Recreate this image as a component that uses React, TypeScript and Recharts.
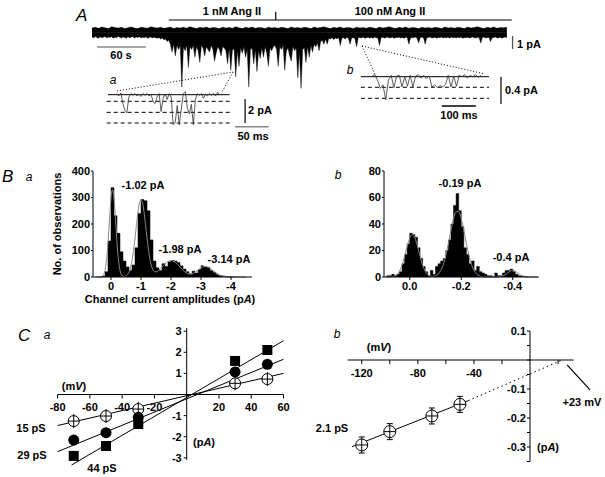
import React from 'react';
import { ComposedChart, Area, Line, Scatter, XAxis, YAxis, ReferenceLine } from 'recharts';

const W = 605;
const H = 477;
const FONT = '"Liberation Sans", Arial, Helvetica, sans-serif';

// ---------- Panel A : continuous recording (pA) ----------
// lower envelope, one value every 2 s
const traceLow = [
  // quiet, control
  -0.35, -0.42, -0.3, -0.38, -0.45, -0.33, -0.4, -0.36, -0.3, -0.43,
  -0.35, -0.38, -0.32, -0.45, -0.36, -0.4, -0.3, -0.37, -0.42, -0.34,
  -0.38, -0.45, -0.33, -0.4, -0.36, -0.3, -0.44, -0.35, -0.39, -0.32,
  -0.42, -0.36, -0.4, -0.33, -0.45, -0.38, -0.35, -0.42, -0.36, -0.4,
  -0.45, -0.38, -0.5, -0.42, -0.55,
  // active, Ang II
  -0.5, -0.7, -0.6, -0.9, -1.5, -0.9, -1.8, -1.0, -1.3, -1.0,
  -4.2, -1.1, -1.4, -1.0, -2.7, -1.1, -1.3, -1.0, -1.9, -1.1,
  -1.4, -2.3, -1.0, -1.2, -1.8, -1.1, -1.3, -1.5, -1.0, -1.3,
  -2.2, -1.6, -1.1, -1.3, -1.8, -1.1, -1.2, -1.4, -2.4, -1.2,
  -2.9, -1.3, -1.3, -3.4, -1.4, -2.6, -1.2, -1.6, -1.1, -1.9,
  -1.3, -4.2, -1.3, -1.2, -2.4, -1.3, -3.0, -1.4, -2.0, -1.2,
  -1.9, -1.1, -1.6, -2.6, -1.2, -1.4, -1.1, -1.0, -1.3, -2.6,
  -1.1, -1.3, -1.0, -2.9, -1.4, -1.2, -1.8, -2.2, -1.1, -1.4,
  -1.2, -3.5, -1.5, -4.3, -1.3, -1.2, -2.3, -1.1, -1.9, -1.0,
  -1.5, -0.9, -1.1, -0.8, -1.4, -0.7, -0.6, -0.9, -0.5,
  // late
  -0.9, -0.45, -0.5, -0.4, -0.55, -0.42, -0.48, -0.4, -1.0, -0.45,
  -0.4, -0.5, -0.38, -0.45, -0.9, -0.42, -0.4, -0.48, -1.1, -0.4,
  -0.38, -0.42, -0.35, -0.45, -0.4, -0.36, -0.42, -0.38, -0.45, -0.35,
  -0.4, -0.42, -1.0, -0.4, -0.36, -0.44, -0.38, -0.35, -0.42, -0.4,
  -0.36, -0.45, -0.38, -0.4, -0.35, -0.42, -0.38, -0.45, -0.36, -0.4,
  -0.9, -0.42, -0.38, -0.4, -0.35, -0.44, -0.8, -0.4, -0.36, -0.42,
  -0.9, -0.4, -0.38, -0.35, -0.42, -0.4, -0.36, -0.45, -0.38, -0.4,
  -0.35, -0.42, -0.38, -0.4, -0.36, -0.44, -0.35, -0.4, -0.38, -0.42,
  -0.36, -0.4, -0.35, -0.45, -0.38, -0.4, -0.36, -0.42, -0.38, -0.35,
  -0.4, -0.42, -0.36, -0.4, -0.8, -0.38, -0.35, -0.42, -0.4, -0.36,
  -0.7, -0.4, -0.38, -0.35, -0.42, -0.4, -0.36, -0.44, -0.38, -0.35, -0.4,
];
// upper envelope, one value every 4 s
const traceHigh = [
  0.35, 0.4, 0.32, 0.42, 0.36, 0.3, 0.45, 0.38,
  0.34, 0.4, 0.31, 0.37, 0.43, 0.35, 0.3, 0.41,
  0.36, 0.33, 0.44, 0.38, 0.35, 0.4, 0.32, 0.36,
  0.42, 0.3, 0.38, 0.35, 0.4, 0.33, 0.45, 0.36,
  0.3, 0.4, 0.35, 0.42, 0.32, 0.38, 0.36, 0.3,
  0.41, 0.35, 0.38, 0.33, 0.44, 0.36, 0.3, 0.4,
  0.35, 0.42, 0.32, 0.38, 0.36, 0.3, 0.41, 0.35,
  0.38, 0.33, 0.4, 0.36, 0.3, 0.42, 0.35, 0.38,
  0.33, 0.4, 0.36, 0.3, 0.42, 0.35, 0.38, 0.44,
  0.36, 0.3, 0.4, 0.35, 0.42, 0.32, 0.38, 0.36,
  0.3, 0.41, 0.35, 0.38, 0.33, 0.4, 0.36, 0.3,
  0.42, 0.35, 0.38, 0.45, 0.36, 0.3, 0.4, 0.35,
  0.42, 0.32, 0.38, 0.36, 0.3, 0.41, 0.35, 0.38,
  0.33, 0.4, 0.36, 0.3, 0.42, 0.35, 0.38, 0.33,
  0.4, 0.36, 0.3, 0.42, 0.35, 0.38, 0.44, 0.36,
  0.3, 0.4, 0.35, 0.42, 0.32, 0.38, 0.36, 0.4,
];
const lowRows = traceLow.map((lo, i) => ({ t: i * 2, band: [lo, 0] }));
const highRows = traceHigh.map((hi, i) => ({ t: i * 4, band: [0, hi] }));

// inset a (ms, pA)
const insetATime = [15, 18, 21, 24, 27, 30, 33, 36, 39, 42, 45, 48, 51, 54, 57, 60, 63, 66, 69, 72, 75, 78, 81, 84,
  87, 90, 93, 96, 99, 102, 105, 108, 111, 114, 117, 120, 123, 126, 129, 132, 135, 138, 141, 144, 147, 150, 153,
  156, 159, 162, 165, 168, 171];
const insetACurrent = [0.1, -0.1, 0.15, -0.7, -1.3, -1.5, -0.2, 0.1, -0.05, 0.1,
  -0.1, 0.05, -0.15, 0.1, -0.05, 0.1, -0.1, 0.05, -0.6, -0.75,
  -0.2, 0.1, -1.4, -0.3, 0.05, -0.4, 0.1, -0.2, -2.5, -2.3,
  -0.9, -2.5, -1.2, 0.1, 0.25, -1.1, -1.6, -0.8, -2.5, -0.4,
  0.1, -0.05, 0.1, -0.3, 0.05, -0.1, 0.1, -0.05, 0.1, -0.1,
  0.2, 0, 0.05];
const insetARows = insetATime.map((t, i) => ({ t, i: insetACurrent[i] }));
const insetALevels = [-0.55, -1.47, -2.36];

// inset b (ms, pA)
const insetBTime = [18, 26, 34, 42, 50, 58, 66, 74, 82, 90, 98, 106, 114, 122, 130, 138, 146, 154, 162, 170, 178,
  186, 194, 202, 210, 218, 226, 234, 242, 250, 258, 266, 274, 282, 290, 298, 306, 314, 322, 330, 338];
const insetBCurrent = [0.01, 0.03, -0.05, -0.17, -0.12, -0.34, -0.05, 0.02, -0.16, 0.01,
  0.02, -0.15, 0.0, -0.14, 0.02, -0.15, 0.01, 0.03, -0.02, 0.02,
  -0.03, 0.01, -0.15, -0.12, -0.16, -0.13, -0.15, -0.11, 0.02, -0.15,
  0.01, -0.14, 0.02, 0.0, 0.03, -0.02, 0.02, 0.0, 0.03, -0.01, 0.02];
const insetBRows = insetBTime.map((t, i) => ({ t, i: insetBCurrent[i] }));
const insetBLevels = [-0.155, -0.316];

// ---------- Panel B : amplitude histograms ----------
const histAX = [0.4, 0.3, 0.2, 0.1, 0.0, -0.1, -0.2, -0.3, -0.4, -0.5, -0.6, -0.7, -0.8, -0.9, -1.0, -1.1, -1.2,
  -1.3, -1.4, -1.5, -1.6, -1.7, -1.8, -1.9, -2.0, -2.1, -2.2, -2.3, -2.4, -2.5, -2.6, -2.7, -2.8, -2.9, -3.0,
  -3.1, -3.2, -3.3, -3.4, -3.5, -3.6, -3.7, -3.8, -3.9, -4.0, -4.1];
const histACount = [0, 3, 20, 136, 337, 231, 165, 95, 60, 38, 25, 45, 110, 240, 292, 288, 250,
  140, 60, 35, 25, 50, 40, 58, 62, 60, 55, 42, 30, 20, 10, 22, 15, 28, 42,
  38, 36, 25, 18, 10, 6, 4, 2, 1, 0, 0];
const histARows = histAX.map((x, i) => ({ x, c: histACount[i] }));
const fitAX = [0.5, 0.4, 0.3, 0.25, 0.2, 0.15, 0.1, 0.05, 0, -0.05, -0.1, -0.15, -0.2, -0.25, -0.3, -0.35, -0.4,
  -0.45, -0.5, -0.55, -0.6, -0.65, -0.7, -0.75, -0.8, -0.85, -0.9, -0.95, -1.0, -1.05, -1.1, -1.15, -1.2, -1.25,
  -1.3, -1.35, -1.4, -1.45, -1.5, -1.6, -1.7, -1.8, -1.9, -2.0, -2.1, -2.2, -2.3, -2.4, -2.5, -2.6, -2.7, -2.8,
  -2.9, -3.0, -3.1, -3.2, -3.3, -3.4, -3.5, -3.6, -3.7, -3.8, -3.9, -4.0, -4.2, -4.5];
const fitAY = [0, 0.1, 2.1, 8, 25, 63, 130, 218, 298, 330, 298, 218, 130, 63, 25, 8, 2.7,
  2.1, 4, 8.8, 18.3, 35, 61.5, 99, 146, 198, 246, 280, 292, 280, 246, 198, 148, 102,
  65.6, 41, 26.7, 20.3, 19.4, 26.1, 37.6, 49.6, 58.6, 62, 58.6, 49.6, 37.6, 25.8, 17, 12.3, 12.6, 17.7,
  25.9, 34.4, 39.5, 38.9, 32.6, 23.3, 14.2, 7.4, 3.3, 1.2, 0.4, 0.1, 0, 0];
const fitARows = fitAX.map((x, i) => ({ x, y: fitAY[i] }));

const histBX = [0.09, 0.08, 0.07, 0.06, 0.05, 0.04, 0.03, 0.02, 0.01, 0, -0.01, -0.02, -0.03, -0.04, -0.05, -0.06,
  -0.07, -0.08, -0.09, -0.1, -0.11, -0.12, -0.13, -0.14, -0.15, -0.16, -0.17, -0.18, -0.19, -0.2, -0.21, -0.22,
  -0.23, -0.24, -0.25, -0.26, -0.27, -0.28, -0.29, -0.3, -0.31, -0.32, -0.33, -0.34, -0.35, -0.36, -0.37, -0.38,
  -0.39, -0.4, -0.41, -0.42, -0.43, -0.44, -0.45, -0.46];
const histBCount = [1, 1, 2, 1, 2, 4, 10, 17, 25, 33, 32, 30, 22, 14, 8, 4, 1, 5, 2, 8, 10, 12, 14, 20, 28, 40, 54,
  63, 50, 38, 22, 17, 10, 12, 5, 8, 4, 3, 2, 1, 1, 0, 3, 1, 1, 3, 5, 5, 6, 4, 2, 1, 0.5, 0.5, 0, 0];
const histBRows = histBX.map((x, i) => ({ x, c: histBCount[i] }));
const fitBX = [0.09, 0.08, 0.07, 0.06, 0.05, 0.04, 0.03, 0.02, 0.01, 0, -0.01, -0.02, -0.03, -0.04, -0.05, -0.06,
  -0.07, -0.08, -0.09, -0.1, -0.11, -0.12, -0.13, -0.14, -0.15, -0.16, -0.17, -0.18, -0.19, -0.2, -0.21, -0.22,
  -0.23, -0.24, -0.25, -0.26, -0.27, -0.28, -0.29, -0.3, -0.32, -0.34, -0.35, -0.36, -0.37, -0.38, -0.39, -0.4,
  -0.41, -0.42, -0.43, -0.44, -0.45, -0.47, -0.5];
const fitBY = [0, 0.05, 0.2, 0.6, 1.8, 4.3, 8.9, 15.6, 23.2, 29.5, 32, 29.5, 23.2, 15.6, 8.9, 4.3,
  1.8, 0.7, 0.5, 0.9, 2.2, 4.8, 9.3, 16.2, 25.3, 35.3, 44.1, 49.3, 49.3, 44.1, 35.3, 25.3,
  16.2, 9.3, 4.8, 2.2, 0.9, 0.3, 0.1, 0, 0, 0.05, 0.2, 0.7, 1.6, 3.0, 4.4, 5,
  4.4, 3.0, 1.6, 0.7, 0.2, 0, 0];
const fitBRows = fitBX.map((x, i) => ({ x, y: fitBY[i] }));

// ---------- Panel C : I-V relations ----------
const voltsA = [-70, -50, -30, 30, 50];
const i15 = [-1.26, -1.02, -0.69, 0.53, 0.73];
const i29 = [-2.16, -1.81, -1.08, 1.07, 1.43];
const i44 = [-2.91, -2.44, -1.4, 1.59, 2.11];
const fit15 = [{ x: -80, y: -1.47 }, { x: 60, y: 1.0 }];
const fit29 = [{ x: -80, y: -2.71 }, { x: 60, y: 1.67 }];
const fit44 = [{ x: -71.3, y: -3.34 }, { x: 60, y: 2.55 }];
const pts15 = voltsA.map((x, i) => ({ x, y: i15[i] }));
const pts29 = voltsA.map((x, i) => ({ x, y: i29[i] }));
const pts44 = voltsA.map((x, i) => ({ x, y: i44[i] }));

const voltsB = [-120, -100, -70, -50];
const iB = [-0.293, -0.247, -0.193, -0.153];
const ptsB = voltsB.map((x, i) => ({ x, y: iB[i] }));
const fitBSolid = [{ x: -127, y: -0.299 }, { x: -44, y: -0.14 }];
const fitBDotted = [{ x: -44, y: -0.14 }, { x: 23, y: 0 }];

// ---------- helpers ----------
const mg = (x0: number, y0: number, x1: number, y1: number, yw = 0, xh = 0) => ({
  left: x0 - yw, top: y0, right: W - x1, bottom: H - y1 - xh,
});
const tickStyle = { fontSize: 11, fontWeight: 700, fill: '#000', fontFamily: FONT };
const axisStroke = { stroke: '#000', strokeWidth: 1 };

function Layer({ margin, data, children }: any) {
  return (
    <div style={{ position: 'absolute', left: 0, top: 0, width: W, height: H }}>
      <ComposedChart width={W} height={H} data={data} margin={margin}>
        {children}
      </ComposedChart>
    </div>
  );
}

function T({ x, y, children, size = 11, bold = true, italic = false, anchor = 'middle', rotate = 0 }: any) {
  const tx = anchor === 'middle' ? '-50%' : anchor === 'start' ? '0%' : '-100%';
  return (
    <div
      style={{
        position: 'absolute', left: x, top: y, whiteSpace: 'nowrap', lineHeight: 1,
        transform: `translate(${tx}, -50%) rotate(${rotate}deg)`,
        fontSize: size, fontWeight: bold ? 700 : 400, fontStyle: italic ? 'italic' : 'normal',
        fontFamily: FONT, color: '#000',
      }}
    >
      {children}
    </div>
  );
}

const OpenCross = (p: any) => (
  <g>
    <circle cx={p.cx} cy={p.cy} r={5.5} fill="#fff" stroke="#000" strokeWidth={1} />
    <line x1={p.cx - 5.5} x2={p.cx + 5.5} y1={p.cy} y2={p.cy} stroke="#000" strokeWidth={1} />
    <line x1={p.cx} x2={p.cx} y1={p.cy - 7} y2={p.cy + 7} stroke="#000" strokeWidth={1} />
  </g>
);
const Dot = (p: any) => <circle cx={p.cx} cy={p.cy} r={5.5} fill="#000" />;
const Sq = (p: any) => <rect x={p.cx - 5} y={p.cy - 5} width={10} height={10} fill="#000" />;
const Nothing = () => <g />;
const OpenCrossB = (p: any) => (
  <g>
    <circle cx={p.cx} cy={p.cy} r={6} fill="#fff" stroke="#000" strokeWidth={1} />
    <line x1={p.cx - 6} x2={p.cx + 6} y1={p.cy} y2={p.cy} stroke="#000" strokeWidth={1} />
    <line x1={p.cx} x2={p.cx} y1={p.cy - 8} y2={p.cy + 8} stroke="#000" strokeWidth={1} />
    <line x1={p.cx - 3} x2={p.cx + 3} y1={p.cy - 8} y2={p.cy - 8} stroke="#000" strokeWidth={1} />
    <line x1={p.cx - 3} x2={p.cx + 3} y1={p.cy + 8} y2={p.cy + 8} stroke="#000" strokeWidth={1} />
  </g>
);

const dummy = [{ x: 0, y: 0 }];

export default function App() {
  const caX0 = 57.6, caX1 = 283.5, caZero = 394.5, caUnit = 21.1;
  const cbX0 = 347.7, cbX1 = 573.5, cbYAxis = 530, cbZero = 360, cbUnit = 290;

  return (
    <div style={{ position: 'absolute', left: 0, top: 0, width: W, height: H, background: '#fff', overflow: 'hidden', fontFamily: FONT }}>
      {/* ---------- A: main trace ---------- */}
      <Layer margin={mg(92, 6.5, 533, 91)} data={lowRows}>
        <XAxis type="number" dataKey="t" domain={[0, 540]} hide />
        <YAxis type="number" domain={[-4.5, 2]} hide allowDataOverflow />
        <Area dataKey="band" type="linear" fill="#000" fillOpacity={1} stroke="#000" strokeWidth={0.4} isAnimationActive={false} />
        <Area data={highRows} dataKey="band" type="linear" fill="#000" fillOpacity={1} stroke="#000" strokeWidth={0.4} isAnimationActive={false} />
        <ReferenceLine segment={[{ x: 94, y: 0.96 }, { x: 514, y: 0.96 }]} stroke="#000" strokeWidth={1.2} ifOverflow="visible" />
        <ReferenceLine segment={[{ x: 225, y: 0.96 }, { x: 225, y: 1.6 }]} stroke="#000" strokeWidth={1.2} ifOverflow="visible" />
        <ReferenceLine segment={[{ x: 6, y: -1.12 }, { x: 66, y: -1.12 }]} stroke="#888" strokeWidth={1.6} ifOverflow="visible" />
        <ReferenceLine segment={[{ x: 515, y: -0.27 }, { x: 515, y: -1.27 }]} stroke="#555" strokeWidth={1.3} ifOverflow="visible" />
        <ReferenceLine segment={[{ x: 30.6, y: -4.5 }, { x: 172.7, y: -3.04 }]} stroke="#000" strokeDasharray="1 2" ifOverflow="visible" />
        <ReferenceLine segment={[{ x: 172.7, y: -3.04 }, { x: 159.2, y: -4.58 }]} stroke="#000" strokeDasharray="1 2" ifOverflow="visible" />
        <ReferenceLine segment={[{ x: 330.6, y: -1.04 }, { x: 347.8, y: -3.38 }]} stroke="#000" strokeDasharray="1 2" ifOverflow="visible" />
        <ReferenceLine segment={[{ x: 330.6, y: -1.04 }, { x: 481.2, y: -3.19 }]} stroke="#000" strokeDasharray="1 2" ifOverflow="visible" />
      </Layer>

      {/* inset a */}
      <Layer margin={mg(106.7, 88.7, 271.3, 130.7)} data={insetARows}>
        <XAxis type="number" dataKey="t" domain={[0, 245]} hide />
        <YAxis type="number" domain={[-3, 0.5]} hide allowDataOverflow />
        <ReferenceLine segment={[{ x: 2, y: 0 }, { x: 183, y: 0 }]} stroke="#000" strokeWidth={1} ifOverflow="visible" />
        {insetALevels.map((lv) => (
          <ReferenceLine key={lv} segment={[{ x: 0, y: lv }, { x: 186, y: lv }]} stroke="#000" strokeDasharray="4 3" ifOverflow="visible" />
        ))}
        <Line dataKey="i" type="linear" stroke="#333" strokeWidth={0.8} dot={false} isAnimationActive={false} />
        <ReferenceLine segment={[{ x: 206, y: -0.36 }, { x: 206, y: -2.36 }]} stroke="#000" strokeWidth={1.2} ifOverflow="visible" />
        <ReferenceLine segment={[{ x: 191, y: -2.67 }, { x: 241, y: -2.67 }]} stroke="#888" strokeWidth={1.6} ifOverflow="visible" />
      </Layer>

      {/* inset b */}
      <Layer margin={mg(359.2, 69.87, 502, 110.85)} data={insetBRows}>
        <XAxis type="number" dataKey="t" domain={[-20, 400]} hide />
        <YAxis type="number" domain={[-0.5, 0.1]} hide allowDataOverflow />
        <ReferenceLine segment={[{ x: -15, y: 0 }, { x: 362, y: 0 }]} stroke="#000" strokeWidth={1} ifOverflow="visible" />
        {insetBLevels.map((lv) => (
          <ReferenceLine key={lv} segment={[{ x: -15, y: lv }, { x: 362, y: lv }]} stroke="#000" strokeDasharray="4 3" ifOverflow="visible" />
        ))}
        <Line dataKey="i" type="linear" stroke="#333" strokeWidth={0.8} dot={false} isAnimationActive={false} />
        <ReferenceLine segment={[{ x: 397, y: 0 }, { x: 397, y: -0.4 }]} stroke="#000" strokeWidth={1.2} ifOverflow="visible" />
        <ReferenceLine segment={[{ x: 223, y: -0.43 }, { x: 323, y: -0.43 }]} stroke="#000" strokeWidth={1.4} ifOverflow="visible" />
      </Layer>

      {/* ---------- B a ---------- */}
      <Layer margin={mg(93, 171, 252, 277, 30, 20)} data={histARows}>
        <XAxis type="number" dataKey="x" domain={[-4.7, 0.6]} reversed ticks={[0, -1, -2, -3, -4]} interval={0}
          height={20} tickSize={3} tickMargin={2} axisLine={axisStroke} tickLine={axisStroke} tick={tickStyle} />
        <YAxis type="number" domain={[0, 400]} ticks={[0, 100, 200, 300, 400]} interval={0} width={30}
          tickSize={2} tickMargin={1} axisLine={axisStroke} tickLine={axisStroke} tick={tickStyle} />
        <Area dataKey="c" type="stepAfter" fill="#000" fillOpacity={1} stroke="#000" strokeWidth={0.5} isAnimationActive={false} />
        <Line data={fitARows} dataKey="y" type="monotone" stroke="#888" strokeWidth={1} dot={false} isAnimationActive={false} />
      </Layer>

      {/* ---------- B b ---------- */}
      <Layer margin={mg(384, 171, 538.5, 277, 30, 20)} data={histBRows}>
        <XAxis type="number" dataKey="x" domain={[-0.5, 0.1]} reversed ticks={[0, -0.2, -0.4]} interval={0}
          tickFormatter={(v: number) => v.toFixed(1)}
          height={20} tickSize={3} tickMargin={2} axisLine={axisStroke} tickLine={axisStroke} tick={tickStyle} />
        <YAxis type="number" domain={[0, 80]} ticks={[0, 20, 40, 60, 80]} interval={0} width={30}
          tickSize={2} tickMargin={1} axisLine={axisStroke} tickLine={axisStroke} tick={tickStyle} />
        <Area dataKey="c" type="stepAfter" fill="#000" fillOpacity={1} stroke="#000" strokeWidth={0.5} isAnimationActive={false} />
        <Line data={fitBRows} dataKey="y" type="monotone" stroke="#888" strokeWidth={1} dot={false} isAnimationActive={false} />
      </Layer>

      {/* ---------- C a : axes ---------- */}
      <Layer margin={mg(caX0, caZero - 20, caX1, caZero, 0, 25)} data={dummy}>
        <XAxis type="number" dataKey="x" domain={[-80, 60]} ticks={[-80, -60, -40, -20, 0, 20, 40, 60]} interval={0}
          tickFormatter={(v: number) => (v === 0 ? '' : String(v))}
          height={25} tickSize={4} tickMargin={5} axisLine={axisStroke} tickLine={axisStroke} tick={tickStyle} />
        <YAxis type="number" dataKey="y" domain={[0, 1]} hide />
      </Layer>
      <Layer margin={mg(186.7, caZero - 3.15 * caUnit, 200, caZero + 3.1 * caUnit, 30, 0)} data={dummy}>
        <XAxis type="number" dataKey="x" domain={[0, 1]} hide />
        <YAxis type="number" dataKey="y" domain={[-3.1, 3.15]} ticks={[-3, -2, -1, 0, 1, 2, 3]} interval={0}
          tickFormatter={(v: number) => (v === 0 ? '' : String(v))}
          width={30} tickSize={3} tickMargin={2} axisLine={axisStroke} tickLine={axisStroke} tick={tickStyle} />
      </Layer>
      {/* C a : data */}
      <Layer margin={mg(caX0, caZero - 3.6 * caUnit, caX1, caZero + 3.6 * caUnit)}>
        <XAxis type="number" dataKey="x" domain={[-80, 60]} hide />
        <YAxis type="number" dataKey="y" domain={[-3.6, 3.6]} hide />
        <Scatter data={fit15} shape={Nothing} line={{ stroke: '#000', strokeWidth: 1 }} isAnimationActive={false} />
        <Scatter data={fit29} shape={Nothing} line={{ stroke: '#000', strokeWidth: 1 }} isAnimationActive={false} />
        <Scatter data={fit44} shape={Nothing} line={{ stroke: '#000', strokeWidth: 1 }} isAnimationActive={false} />
        <Scatter data={pts15} shape={OpenCross} isAnimationActive={false} />
        <Scatter data={pts29} shape={Dot} isAnimationActive={false} />
        <Scatter data={pts44} shape={Sq} isAnimationActive={false} />
      </Layer>

      {/* ---------- C b : axes ---------- */}
      <Layer margin={mg(cbX0, cbZero - 20, cbX1, cbZero, 0, 25)} data={dummy}>
        <XAxis type="number" dataKey="x" domain={[-130, 31]} ticks={[-120, -100, -80, -60, -40, -20, 20]} interval={0}
          tickFormatter={(v: number) => (v === -120 || v === -80 || v === -40 ? String(v) : '')}
          height={25} tickSize={4} tickMargin={5} axisLine={axisStroke} tickLine={axisStroke} tick={tickStyle} />
        <YAxis type="number" dataKey="y" domain={[0, 1]} hide />
      </Layer>
      <Layer margin={mg(cbYAxis, cbZero - 0.1 * cbUnit, 545, cbZero + 0.35 * cbUnit, 35, 0)} data={dummy}>
        <XAxis type="number" dataKey="x" domain={[0, 1]} hide />
        <YAxis type="number" dataKey="y" domain={[-0.35, 0.1]}
          ticks={[-0.35, -0.3, -0.25, -0.2, -0.15, -0.1, -0.05, 0, 0.05, 0.1]} interval={0}
          tickFormatter={(v: number) => (Math.abs(v * 10 - Math.round(v * 10)) < 1e-6 && v !== 0 ? v.toFixed(1) : '')}
          width={35} tickSize={3} tickMargin={1} axisLine={axisStroke} tickLine={axisStroke} tick={tickStyle} />
      </Layer>
      {/* C b : data */}
      <Layer margin={mg(cbX0, cbZero - 0.1 * cbUnit, cbX1, cbZero + 0.36 * cbUnit)}>
        <XAxis type="number" dataKey="x" domain={[-130, 31]} hide />
        <YAxis type="number" dataKey="y" domain={[-0.36, 0.1]} hide />
        <Scatter data={fitBSolid} shape={Nothing} line={{ stroke: '#000', strokeWidth: 1 }} isAnimationActive={false} />
        <Scatter data={fitBDotted} shape={Nothing} line={{ stroke: '#000', strokeWidth: 1, strokeDasharray: '1.5 3' }} isAnimationActive={false} />
        <Scatter data={ptsB} shape={OpenCrossB} isAnimationActive={false} />
        <ReferenceLine segment={[{ x: 26.4, y: -0.017 }, { x: 42.8, y: -0.103 }]} stroke="#000" strokeWidth={1.2} ifOverflow="visible" />
      </Layer>

      {/* ---------- text ---------- */}
      <T x={76} y={15} size={17} bold={false} italic anchor="start">A</T>
      <T x={232} y={11}>1 nM Ang II</T>
      <T x={390} y={11}>100 nM Ang II</T>
      <T x={121} y={55}>60 s</T>
      <T x={517} y={44} anchor="start">1 pA</T>
      <T x={113} y={80} size={12} bold={false} italic>a</T>
      <T x={248} y={110} anchor="start">2 pA</T>
      <T x={253} y={136}>50 ms</T>
      <T x={350} y={70} size={12} bold={false} italic>b</T>
      <T x={505} y={90} anchor="start">0.4 pA</T>
      <T x={459} y={115}>100 ms</T>

      <T x={2} y={176} size={17} bold={false} italic anchor="start">B</T>
      <T x={29} y={177} size={12} bold={false} italic>a</T>
      <T x={57} y={224} rotate={-90}>No. of observations</T>
      <T x={143} y={185}>-1.02 pA</T>
      <T x={180} y={249}>-1.98 pA</T>
      <T x={229} y={259}>-3.14 pA</T>
      <T x={170} y={299}>Channel current amplitudes (p<i>A</i>)</T>
      <T x={338} y={175} size={12} bold={false} italic>b</T>
      <T x={460} y={183}>-0.19 pA</T>
      <T x={511} y={257}>-0.4 pA</T>

      <T x={18} y={335} size={17} bold={false} italic anchor="start">C</T>
      <T x={47} y={335} size={12} bold={false} italic>a</T>
      <T x={74} y={386}>(m<i>V</i>)</T>
      <T x={204} y={442}>(p<i>A</i>)</T>
      <T x={31} y={428}>15 pS</T>
      <T x={32} y={455}>29 pS</T>
      <T x={102} y={468}>44 pS</T>
      <T x={337} y={334} size={12} bold={false} italic>b</T>
      <T x={379} y={347}>(m<i>V</i>)</T>
      <T x={548} y={447}>(p<i>A</i>)</T>
      <T x={332} y={428}>2.1 pS</T>
      <T x={582} y={402}>+23 mV</T>
    </div>
  );
}
